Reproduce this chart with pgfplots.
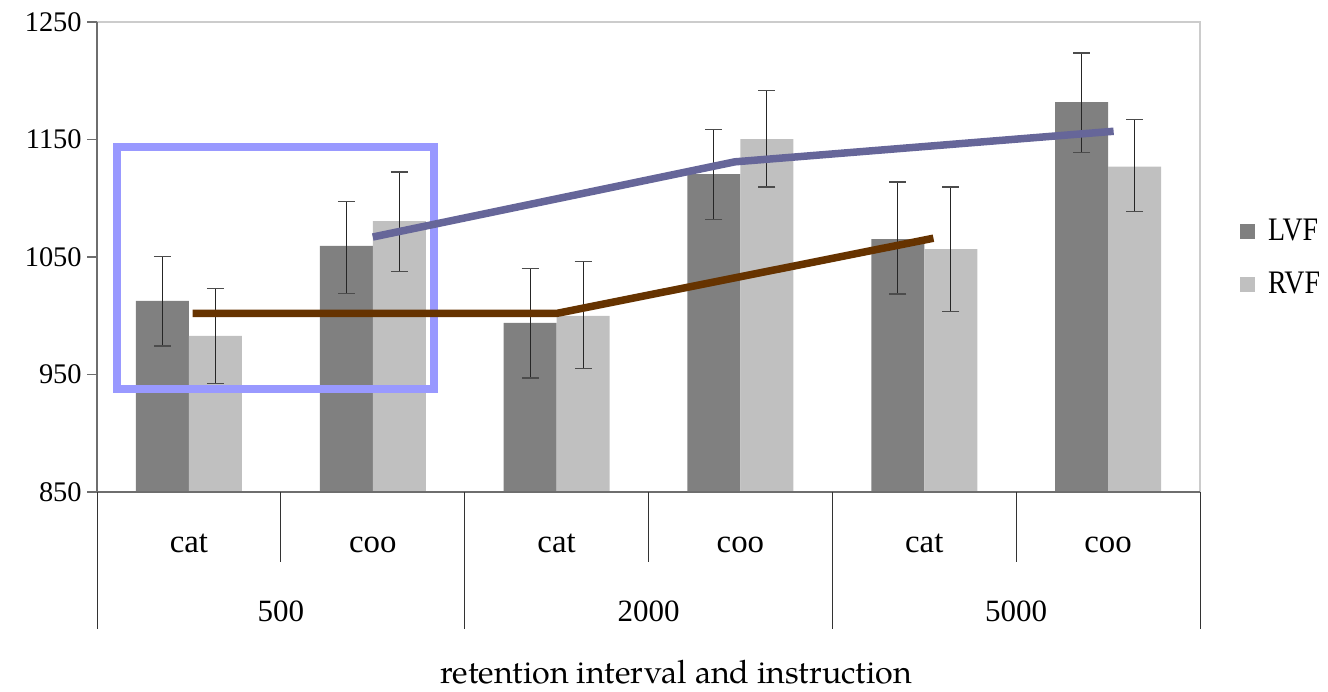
\documentclass[border=0pt]{standalone}
\usepackage{graphicx}
\usepackage{pgfplots}
\pgfplotsset{compat=1.18}
\usepackage{fontspec}
\setmainfont{Liberation Serif}
\newfontfamily\pala{TeX Gyre Pagella}
\newcommand\tf{\fontsize{14.2}{17}\selectfont}
\newcommand\legtext[1]{\fontsize{16.4}{19}\selectfont\scalebox{0.85}[1]{#1}}
\definecolor{lvf}{HTML}{808080}
\definecolor{rvf}{HTML}{C0C0C0}
\definecolor{brownline}{HTML}{663300}
\definecolor{blueline}{HTML}{666699}
\definecolor{boxblue}{HTML}{9999FF}
\definecolor{bordergray}{HTML}{CCCCCC}
\definecolor{axisgray}{HTML}{6E6E6E}
\begin{document}
\begin{tikzpicture}
\begin{axis}[
  name=ax,
  scale only axis,
  width=551.5pt, height=235pt,
  xmin=-0.5, xmax=5.5,
  ymin=850, ymax=1250,
  ytick={850,950,1050,1150,1250},
  yticklabels={{\tf 850},{\tf 950},{\tf 1050},{\tf 1150},{\tf 1250}},
  xtick=\empty,
  axis line style={draw=none},
  ytick pos=left,
  tick align=outside,
  major tick length=5pt,
  tick style={axisgray, line width=0.6pt},
  yticklabel style={inner sep=0pt, xshift=-2.5pt},
  clip mode=individual,
  legend image code/.code={\fill[#1, draw=none] (0pt,-3.75pt) rectangle (7.5pt,3.75pt);},
  legend style={draw=none, fill=none, inner sep=0pt, outer sep=0pt,
    at={(rel axis cs:1.0363,0.4984)}, anchor=west,
    row sep=14.2pt, column sep=6.5pt,
    nodes={inner sep=0pt}},
  legend cell align=left,
  after end axis/.code={
    \draw[bordergray, line width=0.6pt] (rel axis cs:0,1) -- (rel axis cs:1,1) -- (rel axis cs:1,0);
    \draw[axisgray, line width=0.6pt] (rel axis cs:0,1) -- (rel axis cs:0,0);
    \draw[axisgray, line width=1pt] (rel axis cs:0,0) -- (rel axis cs:1,0);
    \draw[black!80, line width=0.5pt] (axis cs:-0.5,850) -- ++(0,-68.5pt);
    \draw[black!80, line width=0.5pt] (axis cs:1.5,850) -- ++(0,-68.5pt);
    \draw[black!80, line width=0.5pt] (axis cs:3.5,850) -- ++(0,-68.5pt);
    \draw[black!80, line width=0.5pt] (axis cs:5.5,850) -- ++(0,-68.5pt);
    \draw[black!80, line width=0.5pt] (axis cs:0.5,850) -- ++(0,-35pt);
    \draw[black!80, line width=0.5pt] (axis cs:2.5,850) -- ++(0,-35pt);
    \draw[black!80, line width=0.5pt] (axis cs:4.5,850) -- ++(0,-35pt);
    \foreach \xx/\lab in {0/cat,1/coo,2/cat,3/coo,4/cat,5/coo}{
      \node[anchor=base, inner sep=0pt, font=\fontsize{16.4}{19}\selectfont] at ([yshift=-30.3pt]axis cs:\xx,850) {\lab};
    }
    \foreach \xx/\lab in {0.5/500,2.5/2000,4.5/5000}{
      \node[anchor=base, inner sep=0pt, font=\fontsize{15.5}{19}\selectfont] at ([yshift=-64.8pt]axis cs:\xx,850) {\lab};
    }
    \node[anchor=base, inner sep=0pt, font=\pala\fontsize{16.1}{19}\selectfont] at ([yshift=-95.7pt]axis cs:2.65,850) {retention interval and instruction};
  },
]
% LVF
\addplot[ybar, bar width=26.5pt, bar shift=0pt, fill=lvf, draw=none,
  error bars/.cd, y dir=both, y explicit,
  error bar style={black!85, line width=0.5pt},
  error mark options={black!70, line width=0.6pt, mark size=4.25pt, rotate=90}]
coordinates {
  (-0.14415,1012.6) += (0,38.0) -= (0,38.3)
  (0.85585,1059.4) += (0,37.6) -= (0,40.6)
  (1.85585,994.0)  += (0,46.0) -= (0,47.0)
  (2.85585,1120.6) += (0,37.7) -= (0,38.6)
  (3.85585,1065.3) += (0,48.5) -= (0,46.8)
  (4.85585,1181.9) += (0,41.7) -= (0,42.8)
};
\addlegendentry{\legtext{LVF}}
% RVF
\addplot[ybar, bar width=26.5pt, bar shift=0pt, fill=rvf, draw=none,
  error bars/.cd, y dir=both, y explicit,
  error bar style={black!85, line width=0.5pt},
  error mark options={black!70, line width=0.6pt, mark size=4.25pt, rotate=90}]
coordinates {
  (0.14415,982.8)  += (0,40.2) -= (0,40.3)
  (1.14415,1080.6) += (0,41.7) -= (0,42.8)
  (2.14415,1000.0) += (0,46.0) -= (0,45.0)
  (3.14415,1150.4) += (0,41.6) -= (0,40.8)
  (4.14415,1056.8) += (0,52.8) -= (0,53.0)
  (5.14415,1126.9) += (0,40.0) -= (0,38.4)
};
\addlegendentry{\legtext{RVF}}
% highlight box
\addplot[boxblue, line width=4pt, sharp plot, no marks, forget plot]
coordinates {(-0.393,1143.9) (1.331,1143.9) (1.331,937.9) (-0.393,937.9)} -- cycle;
% brown line
\addplot[brownline, line width=3.75pt, sharp plot, no marks, forget plot]
coordinates {(0.02,1002) (2.0,1002) (4.05,1066)};
% blue line
\addplot[blueline, line width=3.75pt, sharp plot, no marks, forget plot]
coordinates {(1.0,1067) (2.97,1131) (5.03,1157)};
\end{axis}
\pgfresetboundingbox
\path ([xshift=-48.5pt,yshift=-99.5pt]ax.south west) rectangle ([xshift=64pt,yshift=11pt]ax.north east);
\end{tikzpicture}
\end{document}
